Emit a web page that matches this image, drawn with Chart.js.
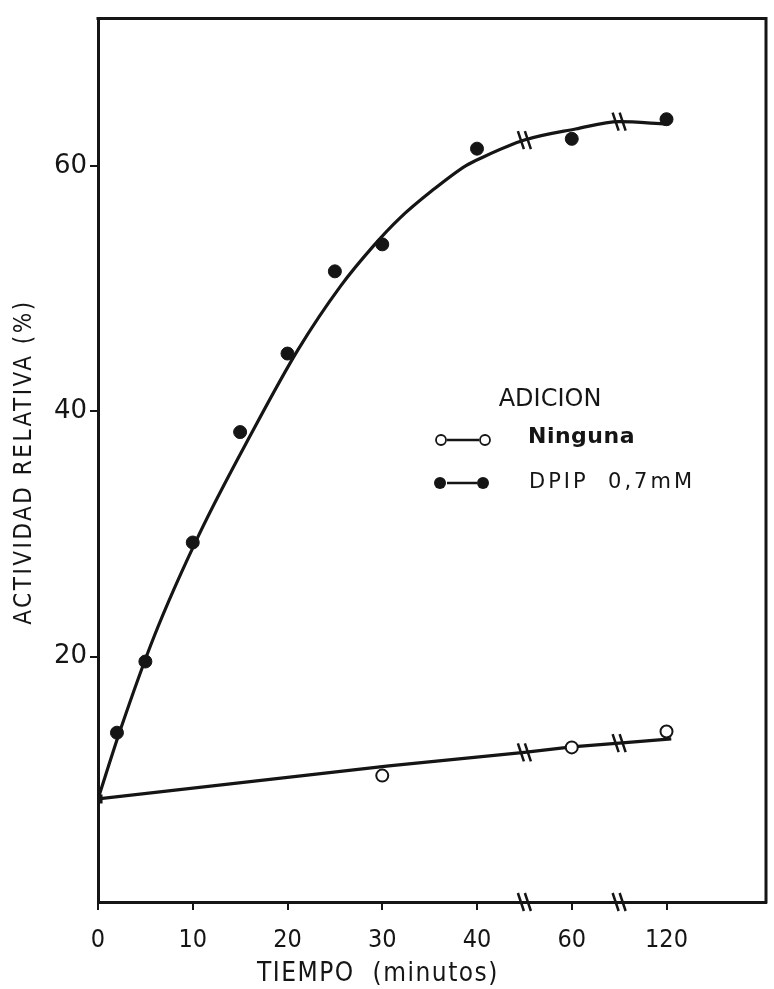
<!DOCTYPE html>
<html><head><meta charset="utf-8">
<script src="https://cdn.jsdelivr.net/npm/chart.js@4.4.0/dist/chart.umd.min.js"></script>
<style>html,body{margin:0;padding:0;background:#fff;}#wrap{position:relative;width:774px;height:989px;}</style>
</head><body><div id="wrap"><canvas id="c" width="774" height="989"></canvas></div>
<script>
// ---- data ----
const xTickPositions = [0, 10, 20, 30, 40, 50, 60];          // positions on the broken time axis
const xTickLabels = ['0', '10', '20', '30', '40', '60', '120']; // minutes shown at those positions
const yTickValues = [20, 40, 60];
const breakPositions = [45, 55];

const dpipMinutes = [0, 2, 5, 10, 15, 20, 25, 30, 40, 60, 120];
const dpipValues  = [8.4, 13.8, 19.6, 29.3, 38.3, 44.7, 51.4, 53.6, 61.4, 62.2, 63.8];
const ningunaMinutes = [0, 30, 60, 120];
const ningunaValues  = [8.4, 10.3, 12.6, 13.9];

// hand-drawn fitted curves (positions on the broken axis)
const dpipCurvePos    = [0, 2.3, 5.9, 10.7, 16.2, 21.1, 25.6, 29.1, 31.8, 35.3, 38.8, 40.6, 45, 50.4, 55, 60];
const dpipCurveValues = [8.4, 13.9, 21.6, 30.0, 38.2, 45.0, 50.2, 53.5, 55.7, 58.0, 60.0, 60.7, 62.1, 63.0, 63.6, 63.4];
const ningunaCurvePos    = [0, 30.7, 45, 50, 55, 60.5];
const ningunaCurveValues = [8.4, 11.1, 12.2, 12.65, 12.95, 13.3];

const seriesNames = ['Ninguna', 'DPIP  0,7mM'];
const legendTitle = 'ADICION';
const xTitle = 'TIEMPO  (minutos)';
const yTitle = 'ACTIVIDAD RELATIVA (%)';

// ---- helpers ----
function toPos(m) {
  const i = xTickLabels.indexOf(String(m));
  if (m > 40 && i >= 0) return xTickPositions[i];
  return m;
}
const pairs = (xs, ys) => xs.map((x, i) => ({ x: x, y: ys[i] }));
const INK = '#151515';

const framePlugin = {
  id: 'frame',
  beforeDatasetsDraw(chart) {
    const a = chart.chartArea, c = chart.ctx;
    c.save(); c.strokeStyle = INK; c.lineWidth = 3; c.lineCap = 'square';
    c.beginPath(); c.moveTo(a.left, a.top); c.lineTo(a.right, a.top); c.lineTo(a.right, a.bottom); c.stroke();
    c.restore();
  }
};

function drawBreak(c, x, y) {
  c.beginPath();
  [-3.5, 3.5].forEach(d => { c.moveTo(x + d - 3, y - 9); c.lineTo(x + d + 3, y + 9); });
  c.stroke();
}

const breakPlugin = {
  id: 'breaks',
  afterDatasetsDraw(chart) {
    const c = chart.ctx, xs = chart.scales.x, a = chart.chartArea;
    c.save(); c.strokeStyle = INK; c.lineWidth = 2.5;
    breakPositions.forEach(p => drawBreak(c, xs.getPixelForValue(p), a.bottom));
    [2, 3].forEach(di => {
      const meta = chart.getDatasetMeta(di);
      const d = chart.data.datasets[di].data;
      d.forEach((pt, i) => { if (breakPositions.includes(pt.x)) drawBreak(c, meta.data[i].x, meta.data[i].y); });
    });
    c.restore();
  }
};

const textPlugin = {
  id: 'texts',
  afterDraw(chart) {
    const c = chart.ctx;
    c.save(); c.fillStyle = INK; c.textBaseline = 'middle'; c.textAlign = 'center';
    // axis titles
    c.font = '26px "DejaVu Sans Condensed", "DejaVu Sans"';
    c.letterSpacing = '1.5px';
    c.fillText(xTitle, 378, 974);
    c.save(); c.translate(25, 462); c.rotate(-Math.PI / 2);
    c.font = '24px "DejaVu Sans Condensed", "DejaVu Sans"';
    c.letterSpacing = '2.5px';
    c.fillText(yTitle, 0, 0);
    c.restore();
    // legend
    c.letterSpacing = '0px';
    c.font = '24px "DejaVu Sans"';
    c.fillText(legendTitle, 550, 400);
    c.textAlign = 'left';
    c.font = 'bold 22px "DejaVu Sans"';
    c.letterSpacing = '0.5px';
    c.fillText(seriesNames[0], 528, 437);
    c.font = '21px "DejaVu Sans"';
    c.letterSpacing = '3px';
    c.fillText(seriesNames[1], 529, 483);
    // legend symbols
    c.strokeStyle = INK; c.lineWidth = 2.5;
    c.beginPath(); c.moveTo(447, 440); c.lineTo(479, 440); c.moveTo(447, 483); c.lineTo(477, 483); c.stroke();
    c.lineWidth = 1.8;
    [441, 485].forEach(x => { c.beginPath(); c.arc(x, 440, 5, 0, Math.PI * 2); c.fillStyle = '#fff'; c.fill(); c.stroke(); });
    c.fillStyle = INK;
    [440, 483].forEach(x => { c.beginPath(); c.arc(x, 483, 6, 0, Math.PI * 2); c.fill(); });
    c.restore();
  }
};

new Chart(document.getElementById('c'), {
  type: 'scatter',
  data: {
    datasets: [
      { label: seriesNames[1], data: pairs(dpipMinutes.map(toPos), dpipValues), showLine: false, order: 0,
        pointStyle: ctx => ctx.dataIndex === 0 ? 'rect' : 'circle',
        pointRadius: ctx => ctx.dataIndex === 0 ? 5 : 6.5,
        backgroundColor: INK, borderColor: INK, borderWidth: 1 },
      { label: seriesNames[0], data: pairs(ningunaMinutes.map(toPos), ningunaValues), showLine: false, order: 0,
        pointStyle: ctx => ctx.dataIndex === 0 ? 'rect' : 'circle',
        pointRadius: ctx => ctx.dataIndex === 0 ? 5 : 6,
        backgroundColor: ctx => ctx.dataIndex === 0 ? INK : '#fff', borderColor: INK, borderWidth: 2 },
      { label: 'curve DPIP', data: pairs(dpipCurvePos, dpipCurveValues), showLine: true, order: 1,
        borderColor: INK, borderWidth: 3.2, pointRadius: 0, tension: 0.4, cubicInterpolationMode: 'monotone' },
      { label: 'curve Ninguna', data: pairs(ningunaCurvePos, ningunaCurveValues), showLine: true, order: 1,
        borderColor: INK, borderWidth: 3.2, pointRadius: 0, tension: 0 }
    ]
  },
  options: {
    responsive: false, animation: false, devicePixelRatio: 1,
    layout: { padding: { top: 14, right: 7, left: 0, bottom: 0 } },
    plugins: { legend: { display: false }, tooltip: { enabled: false } },
    scales: {
      x: {
        type: 'linear', min: 0, max: 70.5,
        afterBuildTicks: s => { s.ticks = xTickPositions.map(v => ({ value: v })); },
        afterFit: s => { s.height = 87; },
        ticks: { callback: v => xTickLabels[xTickPositions.indexOf(v)], color: INK, padding: 15,
                 font: { family: '"DejaVu Sans Condensed", "DejaVu Sans"', size: 25 }, maxRotation: 0, autoSkip: false },
        grid: { drawOnChartArea: false, drawTicks: true, tickLength: 8, color: INK, lineWidth: 2 },
        border: { display: true, color: INK, width: 3 }
      },
      y: {
        min: 0, max: 72,
        afterBuildTicks: s => { s.ticks = yTickValues.map(v => ({ value: v })); },
        afterFit: s => { s.width = 98; },
        ticks: { color: INK, padding: 3, font: { family: '"DejaVu Sans"', size: 26 } },
        grid: { drawOnChartArea: false, drawTicks: true, tickLength: 8, color: INK, lineWidth: 2 },
        border: { display: true, color: INK, width: 3 }
      }
    }
  },
  plugins: [framePlugin, breakPlugin, textPlugin]
});
</script></body></html>
